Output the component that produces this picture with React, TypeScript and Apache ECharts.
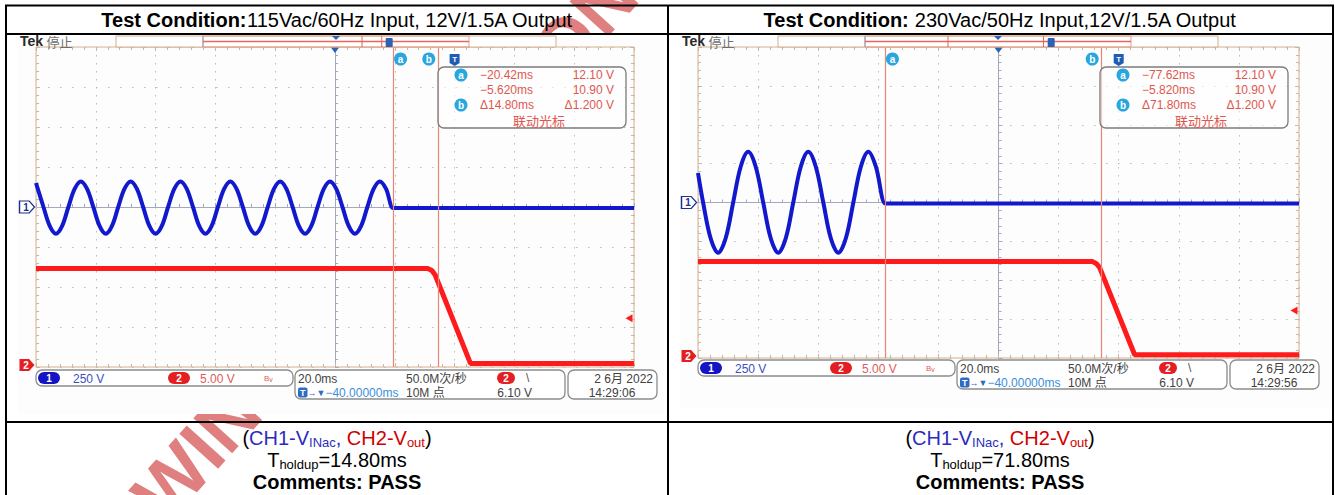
import React, { useEffect, useRef } from 'react';
import * as echarts from 'echarts';

// ---------- axes (oscilloscope screen: 10 x 8 divisions) ----------
const TIME_MIN = -140; // ms relative to trigger
const TIME_MAX = 60;
const TIME_DIV = 20; // 20.0 ms/div
const CH1_MIN = -1000; // V, 250 V/div, ground at screen centre
const CH1_MAX = 1000;
const CH1_DIV = 250;
const CH2_MIN = 0; // V, 5.00 V/div, ground at screen bottom
const CH2_MAX = 40;
const CH2_DIV = 5;
const SCREEN_CENTER = -40; // horizontal delay -40.00000 ms
const TRIGGER_LEVEL = 6.1;

// ---------- texts ----------
const TITLE_VALUES = ['115Vac/60Hz Input, 12V/1.5A Output', ' 230Vac/50Hz Input,12V/1.5A Output'];
const HOLDUP = ['14.80ms', '71.80ms'];
const CURSOR_TIMES = [
  [-20.42, -5.62],
  [-77.62, -5.82],
];
const READOUTS = [
  [
    ['\u221220.42ms', '12.10 V'],
    ['\u22125.620ms', '10.90 V'],
    ['\u039414.80ms', '\u03941.200 V'],
  ],
  [
    ['\u221277.62ms', '12.10 V'],
    ['\u22125.820ms', '10.90 V'],
    ['\u039471.80ms', '\u03941.200 V'],
  ],
];
const CLOCK = ['14:29:06', '14:29:56'];
const DATE = '2 6\u6708 2022';

// ---------- traces: [ms, V] ----------
// 115 Vac / 60 Hz: CH1 (AC input)
const L_CH1: [number, number][] = [
  [-140, 150], [-137.5, 0], [-135.42, -118], [-133.33, -167], [-131.25, -118], [-129.17, 0],
  [-127.08, 113], [-125, 160], [-122.92, 113], [-120.83, 0], [-118.75, -118], [-116.67, -167],
  [-114.58, -118], [-112.5, 0], [-110.42, 113], [-108.33, 160], [-106.25, 113], [-104.17, 0],
  [-102.08, -118], [-100, -167], [-97.92, -118], [-95.83, 0], [-93.75, 113], [-91.67, 160],
  [-89.58, 113], [-87.5, 0], [-85.42, -118], [-83.33, -167], [-81.25, -118], [-79.17, 0],
  [-77.08, 113], [-75, 160], [-72.92, 113], [-70.83, 0], [-68.75, -118], [-66.67, -167],
  [-64.58, -118], [-62.5, 0], [-60.42, 113], [-58.33, 160], [-56.25, 113], [-54.17, 0],
  [-52.08, -118], [-50, -167], [-47.92, -118], [-45.83, 0], [-43.75, 113], [-41.67, 160],
  [-39.58, 113], [-37.5, 0], [-35.42, -118], [-33.33, -167], [-31.25, -118], [-29.17, 0],
  [-27.08, 113], [-25, 160], [-22.92, 113], [-20.6, -6], [-19.6, -6], [60, -6],
];
// 115 Vac / 60 Hz: CH2 (12 V output)
const L_CH2: [number, number][] = [
  [-140, 12.3], [-9, 12.3], [-7.6, 12.05], [-6.5, 11.5], [5.3, 0.45], [60, 0.45],
];
// 230 Vac / 50 Hz: CH1
const R_CH1: [number, number][] = [
  [-140, 190], [-138.3, 0], [-135.8, -230], [-133.3, -323], [-130.8, -230], [-128.3, 0],
  [-125.8, 230], [-123.3, 326], [-120.8, 230], [-118.3, 0], [-115.8, -230], [-113.3, -323],
  [-110.8, -230], [-108.3, 0], [-105.8, 230], [-103.3, 326], [-100.8, 230], [-98.3, 0],
  [-95.8, -230], [-93.3, -323], [-90.8, -230], [-88.3, 0], [-85.8, 230], [-83.3, 326],
  [-80.8, 230], [-77.7, -6], [-76.7, -6], [60, -6],
];
// 230 Vac / 50 Hz: CH2
const R_CH2: [number, number][] = [
  [-140, 12.4], [-8.7, 12.4], [-7.3, 12.1], [-6.3, 11.6], [5.3, 0.42], [60, 0.42],
];
const CH1_DATA = [L_CH1, R_CH1];
const CH2_DATA = [L_CH2, R_CH2];

// ---------- layout & style ----------
const LAYOUT = [
  { gx: 36, gy: 47, gw: 598, gh: 320, sy: 370, img: [18, 35, 646, 379], cx: 337 },
  { gx: 698, gy: 47, gw: 601, gh: 311, sy: 360, img: [680, 35, 651, 373], cx: 1000 },
];
const BLUE = '#1219cc';
const RED = '#ff1b1b';
const CURSOR_C = '#e3877b';
const DOT_C = '#bcbcbc';
const CENTER_C = '#a3a8bc';
const EDGE_C = '#cdb6a0';
const BORDER_C = '#d6ae8b';
const READ_C = '#de574f';
const MARK_BLUE = '#2b62b6';
const CYAN = '#2aa6df';
const FONT = '"Liberation Sans", "Noto Sans CJK SC", sans-serif';
const CJK = '"Noto Sans CJK SC", sans-serif';
const WATERMARK = 'WINSEMI SEMICONDUCTOR';

function txt(x: number, y: number, text: string, o: any = {}) {
  return {
    type: 'text', x, y, z: 10, silent: true,
    style: { text, fontFamily: FONT, fontSize: 12, fill: '#414141', align: 'left', verticalAlign: 'middle', ...o },
  };
}
function rrect(x: number, y: number, w: number, h: number, r: number, style: any, z = 10) {
  return { type: 'rect', z, silent: true, shape: { x, y, width: w, height: h, r }, style };
}
function pill(x: number, y: number, w: number, label: string, fill: string) {
  return [
    rrect(x, y, w, 12, 6, { fill }),
    txt(x + w / 2, y + 6.5, label, { fill: '#fff', fontSize: 10, fontWeight: 'bold', align: 'center' }),
  ];
}

function scopeChrome(i: number) {
  const p = LAYOUT[i];
  const { gx, sy } = p;
  const cur = CURSOR_TIMES[i];
  const els: any[] = [];
  els.push({ type: 'rect', z: -5, silent: true, shape: { x: p.img[0], y: p.img[1], width: p.img[2], height: p.img[3] }, style: { fill: '#fdfdfd' } });
  // header
  els.push({
    type: 'text', x: gx - 16, y: 41, z: 10, silent: true,
    style: {
      text: '{a|Tek} {b|\u505c\u6b62}', verticalAlign: 'middle',
      rich: {
        a: { fontFamily: FONT, fontWeight: 'bold', fontSize: 14, fill: '#2a2a2a' },
        b: { fontFamily: CJK, fontSize: 13, fill: '#6e6e6e' },
      },
    },
  });
  // record bar
  const inL = gx + 167;
  const inW = 266;
  const tx = (t: number) => inL + ((t - TIME_MIN) / (TIME_MAX - TIME_MIN)) * inW;
  els.push(rrect(gx + 80, 36, 440, 11, 0, { fill: '#fff', stroke: BORDER_C, lineWidth: 1 }));
  els.push(rrect(inL, 36, inW, 11, 0, { fill: 'none', stroke: '#e3a08f', lineWidth: 1 }));
  els.push({ type: 'line', z: 10, silent: true, shape: { x1: inL, y1: 36, x2: inL, y2: 47 }, style: { stroke: '#8aa0c8', lineWidth: 1 } });
  els.push({ type: 'line', z: 10, silent: true, shape: { x1: inL, y1: 41.5, x2: inL + inW, y2: 41.5 }, style: { stroke: '#e8665a', lineWidth: 1.5 } });
  cur.forEach((c) => els.push({ type: 'line', z: 10, silent: true, shape: { x1: tx(c), y1: 36, x2: tx(c), y2: 47 }, style: { stroke: '#e06a5c', lineWidth: 1 } }));
  const cX = tx(SCREEN_CENTER);
  els.push({ type: 'polygon', z: 11, silent: true, shape: { points: [[cX - 4, 36], [cX + 4, 36], [cX, 40]] }, style: { fill: MARK_BLUE } });
  const tX = tx(0);
  els.push(rrect(tX - 3.5, 38, 7, 9, 1, { fill: MARK_BLUE }, 11));
  els.push(txt(tX, 42.5, 'T', { fill: '#fff', fontSize: 7, fontWeight: 'bold', align: 'center' }));
  // cursor readout
  const bx = gx + 402;
  els.push(rrect(bx, 67, 188, 61, 6, { fill: 'rgba(255,255,255,0.55)', stroke: '#7b7b7b', lineWidth: 1.3 }));
  const rows = [75, 90, 105];
  READOUTS[i].forEach((r, k) => {
    els.push(txt(gx + 444, rows[k], r[0], { fill: READ_C, fontSize: 12 }));
    els.push(txt(gx + 578, rows[k], r[1], { fill: READ_C, fontSize: 12, align: 'right' }));
  });
  [['a', rows[0]], ['b', rows[2]]].forEach(([l, y]) => {
    els.push({ type: 'circle', z: 10, silent: true, shape: { cx: gx + 425, cy: y as number, r: 6.5 }, style: { fill: CYAN } });
    els.push(txt(gx + 425, (y as number) + 0.5, l as string, { fill: '#fff', fontSize: 10, fontWeight: 'bold', align: 'center' }));
  });
  els.push(txt(gx + 503, 120, '\u8054\u52a8\u5149\u6807', { fill: READ_C, fontSize: 13, fontFamily: CJK, align: 'center' }));
  // status bar
  const boxStyle = { fill: '#fff', stroke: '#8c8c8c', lineWidth: 1.3 };
  els.push(rrect(gx, sy, 257, 16, 6, boxStyle));
  els.push(...pill(gx + 2, sy + 2, 22, '1', '#1414c4'));
  els.push(txt(gx + 37, sy + 8.5, '250 V', { fill: '#3b4fbd' }));
  els.push(...pill(gx + 132, sy + 2, 22, '2', '#e41f24'));
  els.push(txt(gx + 164, sy + 8.5, '5.00 V', { fill: '#e25a58' }));
  els.push(txt(gx + 228, sy + 8.5, '{b|B}{v|v}', { rich: { b: { fontSize: 8, fill: '#e25a58', fontFamily: FONT }, v: { fontSize: 7, fill: '#e25a58', fontFamily: FONT, verticalAlign: 'bottom' } } }));
  els.push(rrect(gx + 259, sy, 270, 29, 6, boxStyle));
  els.push(txt(gx + 262, sy + 8.5, '20.0ms'));
  els.push(txt(gx + 262, sy + 22.5, '{ic|T}{ar|\u2192\u25bc}{v|\u221240.00000ms}', {
    rich: {
      ic: { backgroundColor: '#2d6cc2', fill: '#fff', fontSize: 9, fontWeight: 'bold', padding: [1, 2, 0, 2], borderRadius: 2, fontFamily: FONT },
      ar: { fill: '#2d6cc2', fontSize: 9, fontFamily: FONT },
      v: { fill: '#3c8edc', fontSize: 12, fontFamily: FONT },
    },
  }));
  els.push(txt(gx + 370, sy + 8.5, '50.0M\u6b21/\u79d2'));
  els.push(txt(gx + 370, sy + 22.5, '10M \u70b9'));
  els.push(...pill(gx + 461, sy + 2, 18, '2', '#e41f24'));
  els.push(txt(gx + 490, sy + 8, '\\', { fill: '#555' }));
  els.push(txt(gx + 496, sy + 22.5, '6.10 V', { align: 'right' }));
  els.push(rrect(gx + 532, sy, 89, 29, 6, boxStyle));
  els.push(txt(gx + 617, sy + 8.5, DATE, { align: 'right' }));
  els.push(txt(gx + 576, sy + 22.5, CLOCK[i], { align: 'center' }));
  return els;
}

function tableChrome() {
  const els: any[] = [];
  // watermark (behind the screenshots)
  els.push({
    type: 'text', x: 147, y: 508, rotation: 0.836, z: -10, silent: true,
    style: { text: WATERMARK, fontFamily: FONT, fontWeight: 'bold', fontSize: 76, fill: '#e07f7f', align: 'left', verticalAlign: 'middle' },
  });
  const L = (x1: number, y1: number, x2: number, y2: number) => ({ type: 'line', z: 20, silent: true, shape: { x1, y1, x2, y2 }, style: { stroke: '#000', lineWidth: 2 } });
  els.push(L(5, 5.5, 1334, 5.5), L(5, 34, 1334, 34), L(5, 422, 1334, 422));
  els.push(L(6, 5, 6, 495), L(668, 5, 668, 495), L(1333, 5, 1333, 495));
  const main = { fontFamily: FONT, fontSize: 20, lineHeight: 22, fill: '#000' };
  const sub = { fontFamily: FONT, fontSize: 13, lineHeight: 9, verticalAlign: 'bottom' };
  LAYOUT.forEach((p, i) => {
    els.push({
      type: 'text', x: p.cx, y: 20, z: 20, silent: true,
      style: {
        text: `{b|Test Condition:}{r|${TITLE_VALUES[i]}}`, align: 'center', verticalAlign: 'middle',
        rich: { b: { ...main, fontWeight: 'bold' }, r: main },
      },
    });
    els.push({
      type: 'text', x: p.cx, y: 438, z: 20, silent: true,
      style: {
        text: '{k|(}{bl|CH1-V}{bs|INac}{bl|,}{rd| CH2-V}{rs|out}{k|)}', align: 'center', verticalAlign: 'middle',
        rich: {
          k: main, bl: { ...main, fill: '#2b2bc0' }, bs: { ...sub, fill: '#2b2bc0' },
          rd: { ...main, fill: '#d10000' }, rs: { ...sub, fill: '#d10000' },
        },
      },
    });
    els.push({
      type: 'text', x: p.cx, y: 460, z: 20, silent: true,
      style: {
        text: `{k|T}{s|holdup}{k|=${HOLDUP[i]}}`, align: 'center', verticalAlign: 'middle',
        rich: { k: main, s: { ...sub, fill: '#000' } },
      },
    });
    els.push({
      type: 'text', x: p.cx, y: 482, z: 20, silent: true,
      style: { text: 'Comments: PASS', fontFamily: FONT, fontSize: 20, fontWeight: 'bold', fill: '#000', align: 'center', verticalAlign: 'middle' },
    });
  });
  return els;
}

function buildOption() {
  const grid: any[] = [];
  const xAxis: any[] = [];
  const yAxis: any[] = [];
  const series: any[] = [];
  const graphic: any[] = [...tableChrome()];
  const edgeTick = { show: true, inside: true, length: 4, lineStyle: { color: EDGE_C } };
  const edgeMinor = { show: true, splitNumber: 5, length: 3, lineStyle: { color: EDGE_C } };
  LAYOUT.forEach((p, g) => {
    const base = g * 4;
    grid.push({ left: p.gx, top: p.gy, width: p.gw, height: p.gh, show: true, borderColor: BORDER_C, borderWidth: 1, backgroundColor: 'transparent' });
    const tAx = { gridIndex: g, type: 'value', min: TIME_MIN, max: TIME_MAX, interval: TIME_DIV, axisLabel: { show: false } };
    xAxis.push(
      {
        ...tAx,
        axisLine: { show: true, onZero: true, onZeroAxisIndex: base, lineStyle: { color: CENTER_C, width: 1 } },
        axisTick: { show: true, inside: true, length: 4, lineStyle: { color: CENTER_C } },
        minorTick: { show: true, splitNumber: 5, length: 3, lineStyle: { color: CENTER_C } },
        splitLine: { show: true, lineStyle: { color: DOT_C, width: 1, type: [1.5, 6.5] } },
      },
      { gridIndex: g, type: 'value', min: -100, max: 100, show: false },
      { ...tAx, position: 'top', axisLine: { show: false, onZero: false }, axisTick: edgeTick, minorTick: edgeMinor, splitLine: { show: false } },
      { ...tAx, position: 'bottom', axisLine: { show: false, onZero: false }, axisTick: edgeTick, minorTick: edgeMinor, splitLine: { show: false } },
    );
    const vAx = { gridIndex: g, type: 'value', min: CH1_MIN, max: CH1_MAX, interval: CH1_DIV, axisLabel: { show: false } };
    yAxis.push(
      {
        ...vAx,
        axisLine: { show: true, onZero: true, onZeroAxisIndex: base + 1, lineStyle: { color: CENTER_C, width: 1 } },
        axisTick: { show: true, inside: true, length: 4, lineStyle: { color: CENTER_C } },
        minorTick: { show: true, splitNumber: 5, length: 3, lineStyle: { color: CENTER_C } },
        splitLine: { show: true, lineStyle: { color: DOT_C, width: 1, type: [1.5, 10.5] } },
      },
      { gridIndex: g, type: 'value', min: CH2_MIN, max: CH2_MAX, interval: CH2_DIV, show: false, axisLine: { onZero: false } },
      { ...vAx, position: 'left', axisLine: { show: false, onZero: false }, axisTick: edgeTick, minorTick: edgeMinor, splitLine: { show: false } },
      { ...vAx, position: 'right', axisLine: { show: false, onZero: false }, axisTick: edgeTick, minorTick: edgeMinor, splitLine: { show: false } },
    );
    const cur = CURSOR_TIMES[g];
    series.push({
      name: `CH1-${g}`, type: 'line', xAxisIndex: base, yAxisIndex: base, data: CH1_DATA[g],
      smooth: 0.35, symbol: 'none', silent: true, z: 3,
      lineStyle: { color: BLUE, width: 4 },
      markPoint: {
        silent: true,
        data: [
          {
            coord: [TIME_MIN, 0], symbol: 'path://M0,0 L9,0 L14,6 L9,12 L0,12 Z', symbolSize: [15, 12], symbolOffset: [-9, 0],
            itemStyle: { color: '#ffffff', borderColor: '#1d2f8f', borderWidth: 1.3 },
            label: { show: true, formatter: '1', color: '#1d2f8f', fontSize: 10, fontWeight: 'bold', offset: [-1, 0] },
          },
          { coord: [SCREEN_CENTER, CH1_MAX], symbol: 'triangle', symbolRotate: 180, symbolSize: [9, 6], symbolOffset: [0, 3], itemStyle: { color: MARK_BLUE }, label: { show: false } },
          { coord: [cur[0], CH1_MAX], symbol: 'circle', symbolSize: 13, symbolOffset: [7, 12], itemStyle: { color: CYAN }, label: { show: true, formatter: 'a', color: '#fff', fontSize: 10, fontWeight: 'bold' } },
          { coord: [cur[1], CH1_MAX], symbol: 'circle', symbolSize: 13, symbolOffset: [-9, 12], itemStyle: { color: CYAN }, label: { show: true, formatter: 'b', color: '#fff', fontSize: 10, fontWeight: 'bold' } },
          { coord: [0, CH1_MAX], symbol: 'path://M0,0 L10,0 L10,9 L5,12 L0,9 Z', symbolSize: [10, 12], symbolOffset: [0, 13], itemStyle: { color: '#1f5cb5' }, label: { show: true, formatter: 'T', color: '#fff', fontSize: 8, fontWeight: 'bold', offset: [0, -1] } },
        ],
      },
    });
    series.push({
      name: `CH2-${g}`, type: 'line', xAxisIndex: base, yAxisIndex: base + 1, data: CH2_DATA[g],
      symbol: 'none', silent: true, z: 4,
      lineStyle: { color: RED, width: 5 },
      markLine: {
        silent: true, symbol: ['none', 'none'], label: { show: false },
        lineStyle: { color: CURSOR_C, width: 1.2, type: 'solid', opacity: 1 },
        data: cur.map((c) => ({ xAxis: c, lineStyle: { color: CURSOR_C } })),
      },
      markPoint: {
        silent: true,
        data: [
          {
            coord: [TIME_MIN, CH2_MIN], symbol: 'path://M0,0 L9,0 L14,6 L9,12 L0,12 Z', symbolSize: [15, 12], symbolOffset: [-9, -2],
            itemStyle: { color: '#e41f24' }, label: { show: true, formatter: '2', color: '#fff', fontSize: 10, fontWeight: 'bold', offset: [-1, 0] },
          },
          { coord: [TIME_MAX, TRIGGER_LEVEL], symbol: 'triangle', symbolRotate: 90, symbolSize: [8, 7], symbolOffset: [-5, 0], itemStyle: { color: RED }, label: { show: false } },
        ],
      },
    });
    graphic.push(...scopeChrome(g));
  });
  return {
    animation: false,
    backgroundColor: '#ffffff',
    textStyle: { fontFamily: FONT },
    grid, xAxis, yAxis, series,
    graphic: { elements: graphic },
  };
}

export default function App() {
  const ref = useRef<HTMLDivElement>(null);
  useEffect(() => {
    document.body.style.margin = '0';
    const chart = echarts.init(ref.current as HTMLDivElement, null, { renderer: 'svg' });
    chart.setOption(buildOption() as any);
    return () => chart.dispose();
  }, []);
  return <div ref={ref} style={{ position: 'absolute', left: 0, top: 0, width: 1335, height: 495 }} />;
}
